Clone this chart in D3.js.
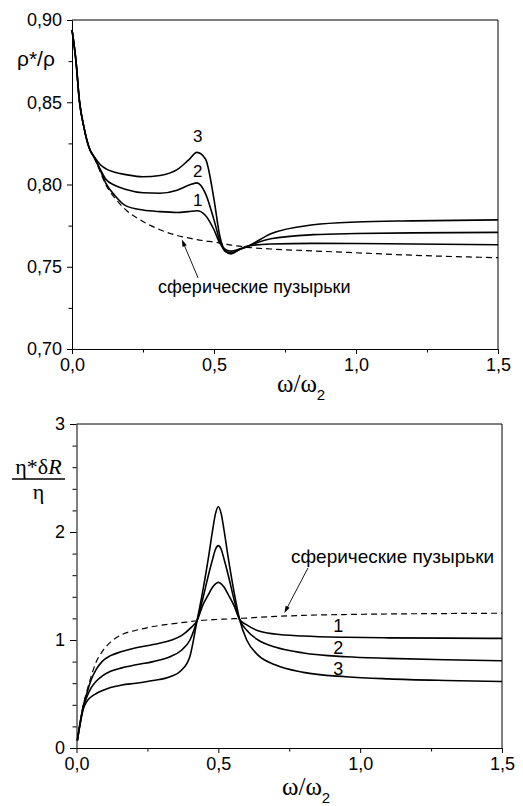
<!DOCTYPE html>
<html>
<head>
<meta charset="utf-8">
<script src="https://cdn.jsdelivr.net/npm/d3@7"></script>
<style>
  html, body { margin: 0; padding: 0; background: #fff; }
  svg { display: block; }
  .num { font-family: "Liberation Sans", Arial, sans-serif; fill: #000; }
  .serif { font-family: "Liberation Serif", "Times New Roman", serif; fill: #000; }
</style>
</head>
<body>
<svg id="chart" width="523" height="806"></svg>
<script>
// ---- Upper panel: effective density ratio rho*/rho versus omega/omega2 ----
const omegaTop = [0, 0.014, 0.026, 0.043, 0.061, 0.08, 0.10, 0.12, 0.15, 0.19, 0.25, 0.31, 0.37, 0.41, 0.44, 0.47, 0.50, 0.52, 0.54, 0.56, 0.59, 0.62, 0.70, 0.85, 1.0, 1.2, 1.5];
const rhoCurve1 = [0.894, 0.875, 0.851, 0.834, 0.822, 0.816, 0.8085, 0.8005, 0.7935, 0.787, 0.7845, 0.7835, 0.783, 0.7835, 0.784, 0.7812, 0.7725, 0.7645, 0.7605, 0.7595, 0.7608, 0.7626, 0.7638, 0.7642, 0.7641, 0.7638, 0.7634];
const rhoCurve2 = [0.894, 0.875, 0.851, 0.834, 0.822, 0.816, 0.809, 0.803, 0.7995, 0.797, 0.795, 0.7947, 0.7965, 0.7995, 0.801, 0.7945, 0.7785, 0.766, 0.7592, 0.7585, 0.7605, 0.7625, 0.767, 0.7695, 0.7702, 0.7706, 0.7709];
const rhoCurve3 = [0.894, 0.875, 0.851, 0.834, 0.822, 0.8165, 0.812, 0.8095, 0.8075, 0.806, 0.8047, 0.8055, 0.809, 0.8148, 0.8195, 0.8155, 0.791, 0.769, 0.7595, 0.7578, 0.7605, 0.7625, 0.770, 0.7755, 0.7772, 0.7779, 0.7785];
const rhoSpherical = [0.894, 0.875, 0.851, 0.834, 0.822, 0.8155, 0.8075, 0.7995, 0.792, 0.7845, 0.7775, 0.7725, 0.769, 0.7675, 0.7665, 0.7657, 0.765, 0.7644, 0.7638, 0.7632, 0.7625, 0.7618, 0.7608, 0.7596, 0.7585, 0.757, 0.7555];
const rhoTicks = [0.70, 0.75, 0.80, 0.85, 0.90];
const rhoMinorTicks = [0.725, 0.775, 0.825, 0.875];

// ---- Lower panel: eta* dR / eta versus omega/omega2 ----
const omegaBottom = [0.003, 0.012, 0.024, 0.036, 0.05, 0.07, 0.09, 0.12, 0.16, 0.21, 0.27, 0.33, 0.37, 0.40, 0.425, 0.445, 0.465, 0.48, 0.49, 0.50, 0.51, 0.52, 0.535, 0.555, 0.575, 0.60, 0.64, 0.70, 0.80, 0.95, 1.1, 1.3, 1.5];
const etaCurve1 = [0.07, 0.22, 0.39, 0.50, 0.62, 0.73, 0.80, 0.855, 0.893, 0.928, 0.958, 0.995, 1.04, 1.105, 1.18, 1.32, 1.42, 1.49, 1.52, 1.534, 1.52, 1.49, 1.42, 1.32, 1.19, 1.14, 1.085, 1.055, 1.037, 1.025, 1.02, 1.017, 1.015];
const etaCurve2 = [0.07, 0.22, 0.38, 0.47, 0.55, 0.62, 0.665, 0.71, 0.742, 0.77, 0.80, 0.845, 0.905, 1.0, 1.18, 1.38, 1.60, 1.75, 1.84, 1.874, 1.84, 1.75, 1.60, 1.38, 1.19, 1.09, 1.0, 0.935, 0.88, 0.845, 0.83, 0.817, 0.808];
const etaCurve3 = [0.07, 0.21, 0.36, 0.43, 0.47, 0.505, 0.53, 0.56, 0.583, 0.60, 0.625, 0.66, 0.72, 0.85, 1.18, 1.45, 1.76, 2.02, 2.17, 2.234, 2.17, 2.02, 1.76, 1.45, 1.19, 1.0, 0.86, 0.77, 0.70, 0.66, 0.64, 0.625, 0.615];
const etaSpherical = [0.07, 0.22, 0.40, 0.52, 0.65, 0.80, 0.89, 0.98, 1.05, 1.09, 1.125, 1.148, 1.16, 1.17, 1.178, 1.183, 1.186, 1.188, 1.19, 1.19, 1.192, 1.193, 1.195, 1.197, 1.2, 1.203, 1.21, 1.218, 1.228, 1.236, 1.241, 1.245, 1.248];
const etaTicks = [0, 1, 2, 3];
const etaMinorTicks = [0.2, 0.4, 0.6, 0.8, 1.2, 1.4, 1.6, 1.8, 2.2, 2.4, 2.6, 2.8];

const omegaTicks = [0, 0.5, 1.0, 1.5];
const omegaMinorTicks = [0.25, 0.75, 1.25];

const curveNames = ["1", "2", "3"];
const sphericalLabel = "сферические пузырьки";

// Label anchors in data units
const rhoLabelPos = [[0.443, 0.7871], [0.443, 0.8044], [0.443, 0.826]];
const etaLabelPos = [[0.923, 1.077], [0.923, 0.870], [0.923, 0.676]];

const svg = d3.select("#chart");
const ru = d3.formatLocale({ decimal: ",", thousands: " ", grouping: [3], currency: ["", ""] });

function drawPanel(cfg) {
  const { left, right, top, bottom, xDomain, yDomain } = cfg;
  const x = d3.scaleLinear().domain(xDomain).range([left, right]);
  const y = d3.scaleLinear().domain(yDomain).range([bottom, top]);
  const g = svg.append("g");

  // frame on top and right
  g.append("line").attr("x1", left).attr("x2", right).attr("y1", top).attr("y2", top)
    .attr("stroke", "#000").attr("stroke-width", 1);
  g.append("line").attr("x1", right).attr("x2", right).attr("y1", top).attr("y2", bottom)
    .attr("stroke", "#000").attr("stroke-width", 1);

  // x axis
  g.append("g").attr("transform", `translate(0,${bottom})`)
    .call(d3.axisBottom(x).tickValues(omegaTicks).tickSize(5).tickSizeOuter(0)
      .tickPadding(4).tickFormat(ru.format(".1f")));
  g.append("g").attr("transform", `translate(0,${bottom})`)
    .call(d3.axisBottom(x).tickValues(omegaMinorTicks).tickSize(3.5).tickSizeOuter(0).tickFormat(""))
    .select(".domain").remove();

  // y axis
  g.append("g").attr("transform", `translate(${left},0)`)
    .call(d3.axisLeft(y).tickValues(cfg.yTicks).tickSize(cfg.yTickSize).tickSizeOuter(0)
      .tickPadding(cfg.yPad).tickFormat(cfg.yFormat));
  g.append("g").attr("transform", `translate(${left},0)`)
    .call(d3.axisLeft(y).tickValues(cfg.yMinor).tickSize(cfg.yMinorSize).tickSizeOuter(0).tickFormat(""))
    .select(".domain").remove();

  g.selectAll(".domain").attr("stroke", "#000").attr("stroke-width", 1);
  g.selectAll(".tick line").attr("stroke", "#000").attr("stroke-width", 1);
  g.selectAll(".tick text").attr("class", "num").attr("font-size", 18)
    .style("font-family", '"Liberation Sans", Arial, sans-serif').attr("fill", "#000");

  const line = d3.line().x(d => x(d[0])).y(d => y(d[1])).curve(d3.curveMonotoneX);

  // spherical-bubble reference curve (dashed)
  g.append("path").datum(cfg.xs.map((v, i) => [v, cfg.spherical[i]]))
    .attr("d", line).attr("fill", "none").attr("stroke", "#000")
    .attr("stroke-width", 1.2).attr("stroke-dasharray", "6,4");

  // numbered curves
  cfg.series.forEach(s => {
    g.append("path").datum(cfg.xs.map((v, i) => [v, s[i]]))
      .attr("d", line).attr("fill", "none").attr("stroke", "#000")
      .attr("stroke-width", 1.6).attr("stroke-linejoin", "round");
  });

  // curve numbers
  cfg.labelPos.forEach((p, i) => {
    g.append("text").attr("class", "num").attr("font-size", cfg.labelSize)
      .attr("text-anchor", "middle").attr("x", x(p[0])).attr("y", y(p[1]))
      .text(curveNames[i]);
  });

  // annotation with arrow
  const a = cfg.arrow;
  const x1 = x(a.from[0]), y1 = y(a.from[1]), x2 = x(a.to[0]), y2 = y(a.to[1]);
  const ang = Math.atan2(y2 - y1, x2 - x1);
  const L = 7, W = 2.3;
  g.append("line").attr("x1", x1).attr("y1", y1)
    .attr("x2", x2 - Math.cos(ang) * L * 0.8).attr("y2", y2 - Math.sin(ang) * L * 0.8)
    .attr("stroke", "#000").attr("stroke-width", 0.9);
  const bx = x2 - Math.cos(ang) * L, by = y2 - Math.sin(ang) * L;
  g.append("path")
    .attr("d", `M${x2},${y2}L${bx - Math.sin(ang) * W},${by + Math.cos(ang) * W}L${bx + Math.sin(ang) * W},${by - Math.cos(ang) * W}Z`)
    .attr("fill", "#000");
  g.append("text").attr("class", "num").attr("font-size", cfg.noteSize)
    .attr("x", x(a.text[0])).attr("y", y(a.text[1])).text(sphericalLabel);

  // x title: omega / omega_2
  const t = g.append("text").attr("x", cfg.xTitle[0]).attr("y", cfg.xTitle[1]);
  t.append("tspan").attr("class", "serif").attr("font-size", 25).text("ω/ω");
  t.append("tspan").attr("class", "num").attr("font-size", 15).attr("dy", 8).text("2");
  return g;
}

// Upper panel
const upperPanel = drawPanel({
  left: 72, right: 498, top: 20, bottom: 349,
  xDomain: [0, 1.5], yDomain: [0.70, 0.90],
  yTicks: rhoTicks, yMinor: rhoMinorTicks, yTickSize: 5, yMinorSize: 3.5, yPad: 5,
  yFormat: ru.format(".2f"),
  xs: omegaTop, series: [rhoCurve1, rhoCurve2, rhoCurve3], spherical: rhoSpherical,
  labelPos: rhoLabelPos, labelSize: 17, noteSize: 18,
  arrow: { from: [0.444, 0.7432], to: [0.387, 0.7665], text: [0.303, 0.734] },
  xTitle: [277, 392]
});
upperPanel.append("text").attr("class", "num").attr("font-size", 21)
  .attr("x", 17).attr("y", 66).text("ρ*/ρ");

// Lower panel
const lowerPanel = drawPanel({
  left: 76.5, right: 502, top: 424, bottom: 748,
  xDomain: [0, 1.5], yDomain: [0, 3],
  yTicks: etaTicks, yMinor: etaMinorTicks, yTickSize: 6.5, yMinorSize: 4, yPad: 5,
  yFormat: d3.format("d"),
  xs: omegaBottom, series: [etaCurve1, etaCurve2, etaCurve3], spherical: etaSpherical,
  labelPos: etaLabelPos, labelSize: 18, noteSize: 19,
  arrow: { from: [0.816, 1.667], to: [0.733, 1.25], text: [0.756, 1.713] },
  xTitle: [282, 795]
});
// y title as a fraction: eta* dR over eta
const num = lowerPanel.append("text").attr("class", "serif").attr("font-size", 22)
  .attr("text-anchor", "middle").attr("x", 38.5).attr("y", 474);
num.append("tspan").text("η*δ");
num.append("tspan").attr("font-style", "italic").text("R");
lowerPanel.append("line").attr("x1", 12).attr("x2", 65).attr("y1", 479).attr("y2", 479)
  .attr("stroke", "#000").attr("stroke-width", 1.4);
lowerPanel.append("text").attr("class", "serif").attr("font-size", 22)
  .attr("text-anchor", "middle").attr("x", 38.5).attr("y", 499).text("η");
</script>
</body>
</html>
